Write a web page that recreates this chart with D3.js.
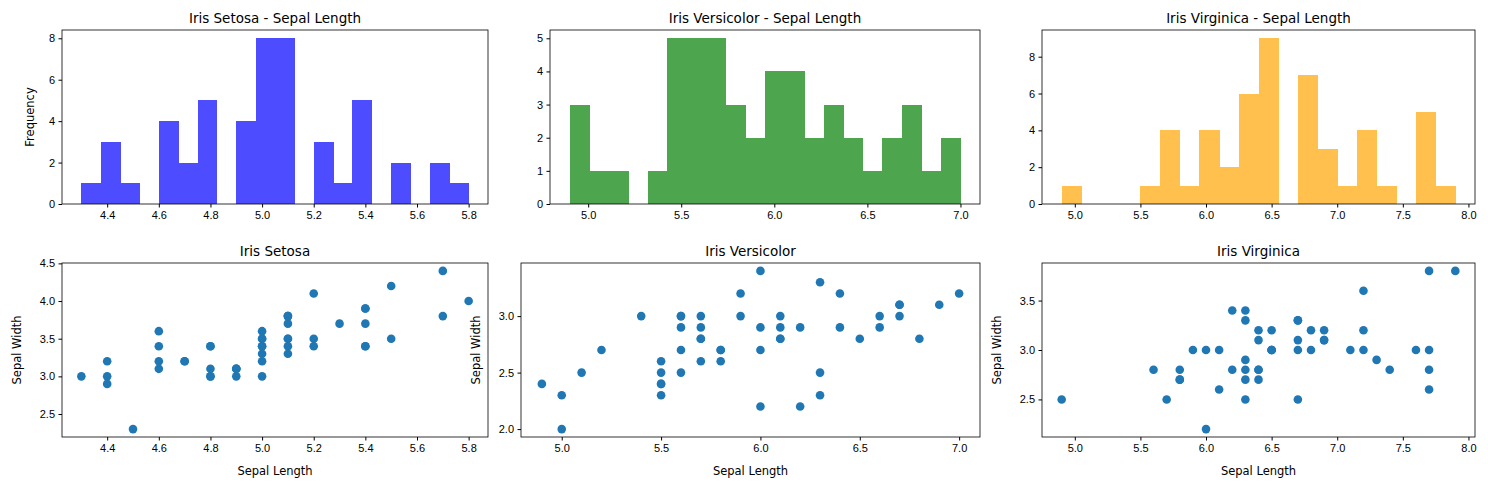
<!DOCTYPE html><html><head><meta charset="utf-8">
<script src="https://cdn.jsdelivr.net/npm/d3@7"></script>
<style>body{margin:0;background:#fff}svg{font-family:"DejaVu Sans",sans-serif}</style></head><body>
<svg id="c" width="1488" height="490"></svg>
<script>
const species = ["Iris Setosa","Iris Versicolor","Iris Virginica"];
const setosaSL=[5.1,4.9,4.7,4.6,5.0,5.4,4.6,5.0,4.4,4.9,5.4,4.8,4.8,4.3,5.8,5.7,5.4,5.1,5.7,5.1,5.4,5.1,4.6,5.1,4.8,5.0,5.0,5.2,5.2,4.7,4.8,5.4,5.2,5.5,4.9,5.0,5.5,4.9,4.4,5.1,5.0,4.5,4.4,5.0,5.1,4.8,5.1,4.6,5.3,5.0];
const setosaSW=[3.5,3.0,3.2,3.1,3.6,3.9,3.4,3.4,2.9,3.1,3.7,3.4,3.0,3.0,4.0,4.4,3.9,3.5,3.8,3.8,3.4,3.7,3.6,3.3,3.4,3.0,3.4,3.5,3.4,3.2,3.1,3.4,4.1,4.2,3.1,3.2,3.5,3.1,3.0,3.4,3.5,2.3,3.2,3.5,3.8,3.0,3.8,3.2,3.7,3.3];
const versiSL=[7.0,6.4,6.9,5.5,6.5,5.7,6.3,4.9,6.6,5.2,5.0,5.9,6.0,6.1,5.6,6.7,5.6,5.8,6.2,5.6,5.9,6.1,6.3,6.1,6.4,6.6,6.8,6.7,6.0,5.7,5.5,5.5,5.8,6.0,5.4,6.0,6.7,6.3,5.6,5.5,5.5,6.1,5.8,5.0,5.6,5.7,5.7,6.2,5.1,5.7];
const versiSW=[3.2,3.2,3.1,2.3,2.8,2.8,3.3,2.4,2.9,2.7,2.0,3.0,2.2,2.9,2.9,3.1,3.0,2.7,2.2,2.5,3.2,2.8,2.5,2.8,2.9,3.0,2.8,3.0,2.9,2.6,2.4,2.4,2.7,2.7,3.0,3.4,3.1,2.3,3.0,2.5,2.6,3.0,2.6,2.3,2.7,3.0,2.9,2.9,2.5,2.8];
const virgSL=[6.3,5.8,7.1,6.3,6.5,7.6,4.9,7.3,6.7,7.2,6.5,6.4,6.8,5.7,5.8,6.4,6.5,7.7,7.7,6.0,6.9,5.6,7.7,6.3,6.7,7.2,6.2,6.1,6.4,7.2,7.4,7.9,6.4,6.3,6.1,7.7,6.3,6.4,6.0,6.9,6.7,6.9,5.8,6.8,6.7,6.7,6.3,6.5,6.2,5.9];
const virgSW=[3.3,2.7,3.0,2.9,3.0,3.0,2.5,2.9,2.5,3.6,3.2,2.7,3.0,2.5,2.8,3.2,3.0,3.8,2.6,2.2,3.2,2.8,2.8,2.7,3.3,3.2,2.8,3.0,2.8,3.0,2.8,3.8,2.8,2.8,2.6,3.0,3.4,3.1,3.0,3.1,3.1,3.1,2.7,3.2,3.3,3.0,2.5,3.0,3.4,3.0];
const SL=[setosaSL,versiSL,virgSL], SW=[setosaSW,versiSW,virgSW];
const histColors=["#4d4dff","#4da64d","#ffc04d"];
const histXTicks=[[4.4,4.6,4.8,5.0,5.2,5.4,5.6,5.8],[5.0,5.5,6.0,6.5,7.0],[5.0,5.5,6.0,6.5,7.0,7.5,8.0]];
const histYTicks=[[0,2,4,6,8],[0,1,2,3,4,5],[0,2,4,6,8]];
const scatYTicks=[[2.5,3.0,3.5,4.0,4.5],[2.0,2.5,3.0],[2.5,3.0,3.5]];
const nBins=20;

const svg=d3.select("#c");
const topBox=[[62,488],[550,980],[1042,1475]], botBox=[[62,488],[521,980],[1042,1475]];
const topY=[30,204], botY=[263,437];
const f1=d=>d3.format(".1f")(d);

function npHist(d,mn,mx){
  const step=(mx-mn)/nBins, edges=d3.range(nBins+1).map(i=>i*step+mn); edges[nBins]=mx;
  const norm=nBins/(mx-mn), counts=new Array(nBins).fill(0);
  d.forEach(v=>{let k=Math.floor((v-mn)*norm); if(k==nBins)k--; if(v<edges[k])k--; else if(v>=edges[k+1]&&k!=nBins-1)k++; counts[k]++;});
  return {counts,edges};
}
function axes(g,x,y,xt,yt,xf,yf,yr,xr){
  g.append("g").attr("transform",`translate(0,${yr[1]})`).call(d3.axisBottom(x).tickValues(xt).tickFormat(xf).tickSize(3.5).tickPadding(3.5));
  g.append("g").attr("transform",`translate(${xr[0]},0)`).call(d3.axisLeft(y).tickValues(yt).tickFormat(yf).tickSize(3.5).tickPadding(3.5));
  g.append("rect").attr("x",xr[0]).attr("y",yr[0]).attr("width",xr[1]-xr[0]).attr("height",yr[1]-yr[0]).attr("fill","none").attr("stroke","#000").attr("stroke-width",0.8);
  g.selectAll(".domain").remove();
  g.selectAll(".tick text").attr("font-size",11).attr("fill","#000");
  g.selectAll(".tick line").attr("stroke","#000");
}
for(let i=0;i<3;i++){
  const d=SL[i], mn=d3.min(d), mx=d3.max(d);
  const {counts,edges}=npHist(d,mn,mx);
  const x=d3.scaleLinear().domain([mn-(mx-mn)*0.05,mx+(mx-mn)*0.05]).range(topBox[i]);
  const ymax=d3.max(counts);
  const y=d3.scaleLinear().domain([0,ymax*1.05]).range([topY[1],topY[0]]);
  const g=svg.append("g");
  g.selectAll("rect.b").data(counts).join("rect").attr("shape-rendering","crispEdges").attr("x",(c,k)=>x(edges[k])).attr("width",(c,k)=>x(edges[k+1])-x(edges[k])+0.5)
   .attr("y",c=>y(c)).attr("height",c=>y(0)-y(c)).attr("fill",histColors[i]);
  axes(g,x,y,histXTicks[i],histYTicks[i],f1,d3.format("d"),topY,topBox[i]);
  g.append("text").attr("x",(topBox[i][0]+topBox[i][1])/2).attr("y",topY[0]-7).attr("text-anchor","middle").attr("font-size",13.5).text(species[i]+" - Sepal Length");
  if(i==0) g.append("text").attr("transform",`translate(${topBox[i][0]-28},${(topY[0]+topY[1])/2}) rotate(-90)`).attr("text-anchor","middle").attr("font-size",11.5).text("Frequency");
  const sx=d3.scaleLinear().domain([mn-(mx-mn)*0.05,mx+(mx-mn)*0.05]).range(botBox[i]);
  const ymn=d3.min(SW[i]), ymx=d3.max(SW[i]);
  const sy=d3.scaleLinear().domain([ymn-(ymx-ymn)*0.05,ymx+(ymx-ymn)*0.05]).range([botY[1],botY[0]]);
  const g2=svg.append("g");
  axes(g2,sx,sy,histXTicks[i],scatYTicks[i],f1,f1,botY,botBox[i]);
  g2.selectAll("circle").data(d).join("circle").attr("cx",v=>sx(v)).attr("cy",(v,k)=>sy(SW[i][k])).attr("r",4.3).attr("fill","#1f77b4");
  g2.append("text").attr("x",(botBox[i][0]+botBox[i][1])/2).attr("y",botY[0]-7).attr("text-anchor","middle").attr("font-size",13.5).text(species[i]);
  g2.append("text").attr("x",(botBox[i][0]+botBox[i][1])/2).attr("y",botY[1]+38).attr("text-anchor","middle").attr("font-size",11.5).text("Sepal Length");
  g2.append("text").attr("transform",`translate(${botBox[i][0]-41},${(botY[0]+botY[1])/2}) rotate(-90)`).attr("text-anchor","middle").attr("font-size",11.5).text("Sepal Width");
}
</script></body></html>
